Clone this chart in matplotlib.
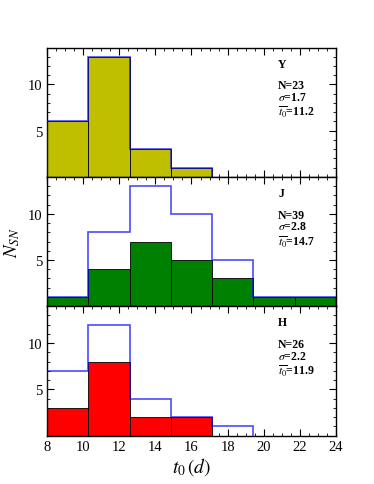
import numpy as np
import matplotlib
matplotlib.use("Agg")
import matplotlib.pyplot as plt
from matplotlib.ticker import MultipleLocator, FixedLocator

plt.rcParams["font.family"] = ["Liberation Serif", "DejaVu Serif"]
plt.rcParams["mathtext.fontset"] = "stix"

edges = np.linspace(8, 24, 8)  # 7 bins
bands = ["Y", "J", "H"]
colors = ["y", "g", "r"]
total_counts = {
    "Y": [6, 13, 3, 1, 0, 0, 0],
    "J": [1, 8, 13, 10, 5, 1, 1],
    "H": [7, 12, 4, 2, 1, 0, 0],
}
band_counts = {
    "Y": [6, 13, 3, 1, 0, 0, 0],
    "J": [1, 4, 7, 5, 3, 1, 1],
    "H": [3, 8, 2, 2, 0, 0, 0],
}
n_sn = {"Y": 23, "J": 39, "H": 26}
sigma = {"Y": 1.7, "J": 2.8, "H": 2.2}
t0_mean = {"Y": 11.2, "J": 14.7, "H": 11.9}

fig = plt.figure(figsize=(3.74, 4.85), dpi=100)
left, right, bottom, top = 0.126, 0.898, 0.10, 0.90
h = (top - bottom) / 3
centers = 0.5 * (edges[:-1] + edges[1:])
width = edges[1] - edges[0]

for i, (band, col) in enumerate(zip(bands, colors)):
    ax = fig.add_axes([left, top - (i + 1) * h, right - left, h])
    ax.bar(centers, band_counts[band], width=width, color=col,
           edgecolor="k", linewidth=0.6, zorder=2)
    tot = np.array(total_counts[band])
    last = np.nonzero(tot)[0].max() + 1  # outline stops at last filled bin
    ax.stairs(tot[:last], edges[:last + 1], color="b", alpha=0.7,
              linewidth=1.2, zorder=3)
    ax.set_xlim(8, 24)
    ax.set_ylim(0, 14)
    ax.yaxis.set_major_locator(FixedLocator([5, 10]))
    ax.yaxis.set_minor_locator(MultipleLocator(1))
    ax.xaxis.set_major_locator(MultipleLocator(2))
    ax.xaxis.set_minor_locator(MultipleLocator(0.5))
    ax.tick_params(which="both", direction="in", top=True, right=True,
                   labelsize=10.5)
    ax.tick_params(which="major", length=5)
    ax.tick_params(which="minor", length=2.5)
    for s in ax.spines.values():
        s.set_linewidth(1.0)
    if i < 2:
        ax.set_xticklabels([])
    else:
        ax.set_xlabel(r"$t_0\,(d)$", fontsize=14, labelpad=1)
    if i == 1:
        ax.set_ylabel(r"$N_{SN}$", fontsize=13.5, labelpad=4)
    kw = dict(transform=ax.transAxes, fontsize=8.5, fontweight="bold",
              va="baseline", ha="left")
    ax.text(0.80, 0.851, band, **kw)
    ax.text(0.80, 0.685, "N=%d" % n_sn[band], **kw)
    ax.text(0.80, 0.595, r"$\sigma$" + "=%.1f" % sigma[band], **kw)
    ax.text(0.80, 0.470, r"$\overline{t_0}$" + "=%.1f" % t0_mean[band], **kw)

fig.savefig("out.png", dpi=100)
